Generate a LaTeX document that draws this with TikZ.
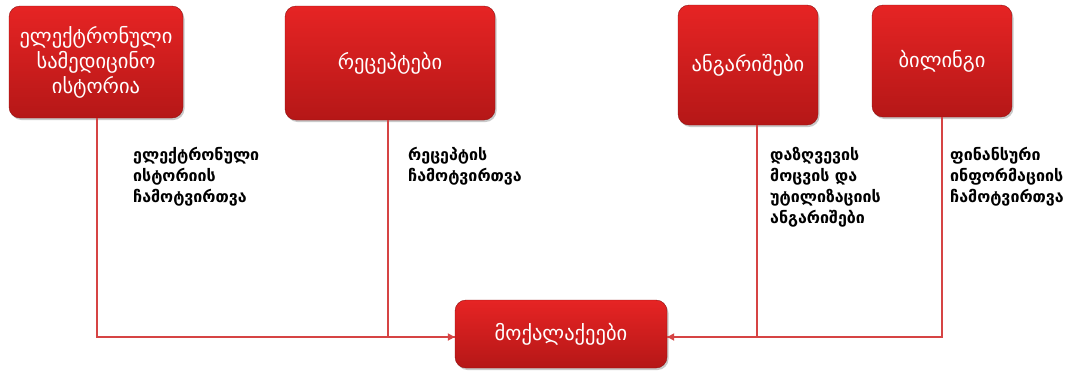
\documentclass[tikz,border=0pt]{standalone}
\usepackage{fontspec}
\usetikzlibrary{arrows.meta,shadows,calc}
\newfontfamily\geo{DejaVu Sans}
\definecolor{boxtop}{HTML}{E62424}
\definecolor{boxbot}{HTML}{B51717}
\definecolor{wire}{HTML}{D64444}
\tikzset{
  redbox/.style={rectangle, rounded corners=11pt, draw=boxbot!80!black, line width=0.4pt,
    top color=boxtop, bottom color=boxbot, text=white, align=center,
    font=\geo\fontsize{20.5}{25}\selectfont,
    drop shadow={shadow xshift=1.5pt, shadow yshift=-2pt, opacity=0.35, fill=black!60},
    inner sep=0pt},
  wireline/.style={draw=wire, line width=2pt},
  wirearrow/.style={wireline, -{Triangle[length=7pt,width=7pt]}},
  caption/.style={anchor=north west, align=left, text=black, inner sep=0pt,
    font=\geo\bfseries\fontsize{16}{21}\selectfont}
}
\begin{document}
\begin{tikzpicture}[x=1pt,y=-1pt]
  \useasboundingbox[fill=white] (0,0) rectangle (1075,376);

  % source systems
  \node[redbox, minimum width=174pt, minimum height=112pt] (ehr) at (96,62)
    {ელექტრონული\\სამედიცინო\\ისტორია};
  \node[redbox, minimum width=210pt, minimum height=114pt] (rx) at (390,63) {რეცეპტები};
  \node[redbox, minimum width=140pt, minimum height=120pt] (rep) at (748,65) {ანგარიშები};
  \node[redbox, minimum width=140pt, minimum height=112pt] (bill) at (942,61) {ბილინგი};

  % target
  \node[redbox, minimum width=212pt, minimum height=68pt] (cit) at (561,334) {მოქალაქეები};

  % joins on the citizen box
  \coordinate (citw) at ($(cit.west)+(0,3)$);
  \coordinate (cite) at ($(cit.east)+(0,3)$);

  % connectors
  \draw[wirearrow] ([xshift=1pt]ehr.south) |- (citw);
  \draw[wireline] ([xshift=-2pt]rx.south) |- (citw);
  \draw[wirearrow] (bill.south) |- (cite);
  \draw[wireline] ([xshift=9pt]rep.south) |- (cite);

  % connector captions
  \node[caption] (c1) at (133,147) {ელექტრონული\\ისტორიის\\ჩამოტვირთვა};
  \node[caption] (c2) at (408,147) {რეცეპტის\\ჩამოტვირთვა};
  \node[caption] (c3) at (770,147) {დაზღვევის\\მოცვის და\\უტილიზაციის\\ანგარიშები};
  \node[caption] (c4) at (950,147) {ფინანსური\\ინფორმაციის\\ჩამოტვირთვა};
\end{tikzpicture}
\end{document}
